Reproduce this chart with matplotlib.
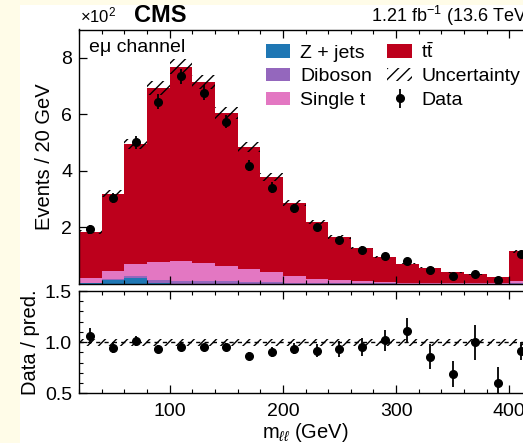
import numpy as np
import matplotlib
matplotlib.use("Agg")
import matplotlib.pyplot as plt
from matplotlib.patches import Patch, Rectangle
from matplotlib.ticker import FuncFormatter, MultipleLocator, FixedLocator

plt.rcParams['font.family'] = ['Liberation Sans', 'DejaVu Sans']
plt.rcParams['mathtext.fontset'] = 'custom'
plt.rcParams['mathtext.rm'] = 'Liberation Sans'
plt.rcParams['mathtext.it'] = 'Liberation Sans:italic'
plt.rcParams['hatch.linewidth'] = 1.0

# ---- data (events per 20 GeV bin) ----
edges = np.arange(20, 440, 20)
zjets = [3, 13, 22, 2, 1, 1, 1, 1, 1, 1, 0.5, 0.5, 0.3, 0.3, 0.2, 0.2, 0.1, 0.1, 0.1, 0.3]
diboson = [2, 3, 5, 13, 11, 9, 8, 7, 5, 4, 3, 2.5, 2, 1.5, 1.2, 1, 0.8, 0.6, 0.5, 2]
single_t = [15, 30, 44, 63, 71, 66, 56, 45, 38, 24, 15.5, 11, 8.7, 5.2, 3.6, 2.3, 2.1, 1.8, 1.4, 9.7]
ttbar = [165, 274, 424, 615, 686, 637, 539, 431, 335, 257, 200, 152, 117, 90, 67, 53.5, 39, 31.5, 23, 103]
data = [196, 303, 501, 645, 734, 676, 574, 419, 341, 268, 201, 155, 122, 99, 80, 49, 29, 34, 15, 105]
rel_unc = 0.035

TTBAR = r"t$\bar{\mathrm{t}}$"
samples = [("Z + jets", zjets, "#1f77b4"),
           ("Diboson", diboson, "#9467bd"),
           ("Single t", single_t, "#e377c2"),
           (TTBAR, ttbar, "#bd001c")]

W, H = 523, 443
fig = plt.figure(figsize=(W / 100, H / 100), dpi=100, facecolor="#fffce8")
fig.patches.append(Rectangle((20 / W, 0), 1, 1 - 5 / H, transform=fig.transFigure,
                             facecolor="white", edgecolor="none", zorder=-10))

def fx(px):
    return px / W

def fy(py):
    return 1 - py / H

x0, x1 = 79, 532
ax = fig.add_axes([fx(x0), fy(284), fx(x1) - fx(x0), fy(29.5) - fy(284)])
rax = fig.add_axes([fx(x0), fy(393.3), fx(x1) - fx(x0), fy(291) - fy(393.3)])
for a in (ax, rax):
    a.set_facecolor("none")

centers = 0.5 * (edges[:-1] + edges[1:])
bottom = np.zeros(len(centers))
handles = []
for name, vals, col in samples:
    vals = np.asarray(vals, float)
    ax.stairs(bottom + vals, edges, baseline=bottom, fill=True, color=col, lw=0, zorder=1)
    bottom = bottom + vals
    handles.append(Patch(facecolor=col, edgecolor="none", label=name))
total = bottom
data = np.asarray(data, float)
derr = np.sqrt(data)

ax.stairs(total * (1 + rel_unc), edges, baseline=total * (1 - rel_unc), fill=True,
          facecolor="none", edgecolor="black", lw=0, hatch="///", zorder=2)
ax.errorbar(centers, data, yerr=derr, fmt="o", color="black", ms=5.5, lw=1.3,
            capsize=0, zorder=3)

ax.set_xlim(20, 420)
ax.set_ylim(0, 900)
ax.yaxis.set_major_locator(FixedLocator([200, 400, 600, 800]))
ax.yaxis.set_major_formatter(FuncFormatter(lambda v, _: f"{v/100:g}"))
ax.xaxis.set_major_locator(MultipleLocator(100))
ax.xaxis.set_minor_locator(MultipleLocator(20))
ax.tick_params(axis="x", labelbottom=False)
ax.set_ylabel("Events / 20 GeV", fontsize=14.5)

# ratio
ratio = data / total
rerr = derr / total
rax.stairs(np.full(len(centers), 1 + rel_unc), edges, baseline=np.full(len(centers), 1 - rel_unc),
           fill=True, facecolor="none", edgecolor="black", lw=0, hatch="///", zorder=2)
rax.axhline(1.0, color="black", lw=1.0, ls=(0, (3, 3)), zorder=2)
rax.errorbar(centers, ratio, yerr=rerr, fmt="o", color="black", ms=5.5, lw=1.3,
             capsize=0, zorder=3)
rax.set_xlim(20, 420)
rax.set_ylim(0.5, 1.5)
rax.yaxis.set_major_locator(MultipleLocator(0.5))
rax.yaxis.set_minor_locator(MultipleLocator(0.1))
rax.yaxis.set_major_formatter(FuncFormatter(lambda v, _: f"{v:.1f}"))
rax.xaxis.set_major_locator(MultipleLocator(100))
rax.xaxis.set_minor_locator(MultipleLocator(20))
rax.set_ylabel("Data / pred.", fontsize=14.5)
rax.set_xlabel(r"m$_{\ell\ell}$ (GeV)", fontsize=14.5)

for a in (ax, rax):
    a.tick_params(which="both", direction="in", top=True, right=True, labelsize=14)
    a.tick_params(which="major", length=6, width=0.9)
    a.tick_params(which="minor", length=3, width=0.8)
    a.tick_params(axis="y", pad=5)
    a.tick_params(axis="x", pad=7)
    for s in a.spines.values():
        s.set_linewidth(1.0)

ax.yaxis.set_label_coords(-0.056, 0.5)
rax.yaxis.set_label_coords(-0.085, 0.5)
rax.xaxis.set_label_coords(0.5, -0.268)

# texts
fig.text(fx(80), fy(22), r"$\times$10$^2$", fontsize=12, ha="left", va="baseline")
fig.text(fx(134), fy(22), "CMS", fontsize=17, fontweight="bold", ha="left", va="baseline")
fig.text(fx(x1), fy(22), r"1.21 fb$^{-1}$ (13.6 TeV)", fontsize=13, ha="right", va="baseline")
fig.text(fx(89), fy(52), "eμ channel", fontsize=14, ha="left", va="baseline")

unc_h = Patch(facecolor="none", edgecolor="black", hatch="///", lw=0, label="Uncertainty")
data_eb = ax.errorbar([], [], yerr=[], fmt="o", color="black", ms=5.5, lw=1.3)
leg_handles = [handles[0], handles[1], handles[2], handles[3], unc_h, data_eb]
leg_labels = ["Z + jets", "Diboson", "Single t", TTBAR, "Uncertainty", "Data"]
fig.legend(leg_handles, leg_labels, ncol=2, loc="upper left",
           bbox_to_anchor=(fx(266), fy(42)), frameon=False, fontsize=14,
           borderpad=0, borderaxespad=0, handlelength=1.25, handleheight=0.7,
           handletextpad=0.5, columnspacing=0.8, labelspacing=0.32)

fig.savefig("out.png", dpi=100, facecolor=fig.get_facecolor())
